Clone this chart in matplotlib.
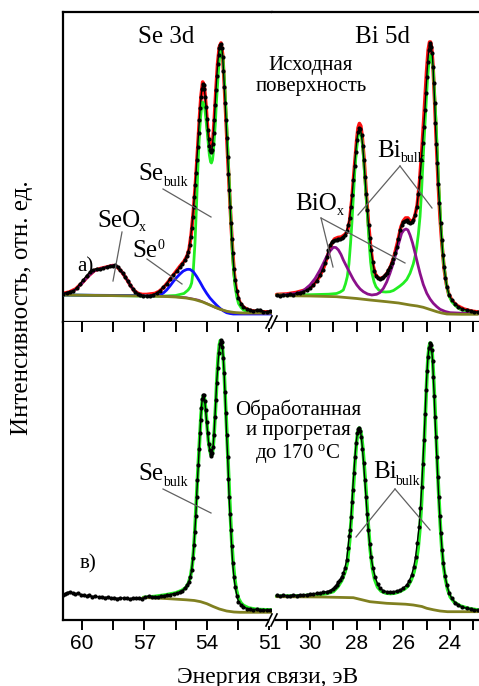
import matplotlib
matplotlib.use("Agg")
import matplotlib.pyplot as plt
from matplotlib.lines import Line2D
from matplotlib.patches import Polygon

plt.rcParams["mathtext.fontset"] = "custom"
plt.rcParams["mathtext.rm"] = "Liberation Serif"
plt.rcParams["mathtext.it"] = "Liberation Serif:italic"
SERIF = "Liberation Serif"
SANS = "Liberation Sans"

# ---------- а) исходная поверхность, Se 3d ----------
se_a_E = [60.90, 60.74, 60.58, 60.42, 60.26, 60.10, 59.94, 59.78, 59.62, 59.46, 59.30, 59.14,
          58.97, 58.81, 58.65, 58.53, 58.41, 58.29, 58.17, 58.05, 57.93, 57.81, 57.69, 57.57,
          57.45, 57.33, 57.21, 57.05, 56.89, 56.73, 56.57, 56.41, 56.25, 56.09, 55.93, 55.77,
          55.61, 55.45, 55.29, 55.17, 55.05, 54.97, 54.89, 54.83, 54.78, 54.73, 54.68, 54.64,
          54.60, 54.56, 54.52, 54.48, 54.44, 54.40, 54.36, 54.32, 54.28, 54.24, 54.20, 54.16,
          54.12, 54.08, 54.04, 54.00, 53.96, 53.92, 53.88, 53.84, 53.80, 53.76, 53.72, 53.68,
          53.64, 53.60, 53.56, 53.52, 53.48, 53.44, 53.40, 53.36, 53.32, 53.28, 53.24, 53.20,
          53.16, 53.12, 53.08, 53.04, 53.00, 52.96, 52.92, 52.88, 52.84, 52.80, 52.76, 52.70,
          52.64, 52.56, 52.48, 52.36, 52.24, 52.08, 51.92, 51.76, 51.60, 51.44, 51.28, 51.12, 50.96]
se_a_I = [28.5, 29.5, 30.5, 31, 34, 38, 42, 46.5, 50, 52, 53.5, 53,
          54, 55.5, 56, 56.5, 57.5, 55.5, 52, 49, 45, 41, 37, 33.5,
          30.5, 28.5, 27, 26.5, 26, 26.5, 27.5, 29, 31.5, 35, 38.5, 43,
          47, 51, 55, 58.5, 62, 66, 70.5, 77, 85, 94, 105, 115,
          125, 137, 149, 162, 175, 189, 202, 214, 225, 233, 238.5, 237.5,
          233, 225, 215, 203, 192, 183, 176.5, 172, 170, 172, 178.5, 189,
          202, 217, 232, 246, 258, 267.5, 274, 277.5, 278, 274, 265, 251,
          235, 219, 202, 184, 165, 148, 132, 115, 99, 83, 69, 53,
          42, 31, 24, 18.5, 15.5, 13, 12, 11, 12.5, 12.5, 10.5, 10.5, 11]

se_a_fit_E = [60.90, 60.60, 60.30, 60.00, 59.70, 59.40, 59.10, 58.80, 58.50, 58.30, 58.10, 57.90,
              57.70, 57.50, 57.30, 57.10, 56.90, 56.70, 56.50, 56.30, 56.10, 55.90, 55.70, 55.50,
              55.30, 55.10, 54.95, 54.85, 54.75, 54.65, 54.55, 54.45, 54.35, 54.28, 54.20, 54.12,
              54.04, 53.96, 53.88, 53.80, 53.72, 53.64, 53.56, 53.48, 53.40, 53.32, 53.24, 53.16,
              53.08, 53.00, 52.92, 52.84, 52.76, 52.68, 52.60, 52.50, 52.40, 52.25, 52.05, 51.80,
              51.50, 51.20, 50.88]
se_a_fit_I = [28.5, 30, 33, 39, 46, 51.5, 53.5, 55, 56.5, 55, 50.5, 44.5,
              37.5, 31.5, 28.5, 27.5, 27.5, 28, 28.5, 30.5, 34, 39, 44.5, 50,
              55.5, 60.5, 66, 73, 88, 110, 137, 170, 205, 226, 240, 235,
              216, 193, 177, 171, 179, 203, 233, 259, 275, 279, 267, 237,
              203, 166, 133, 100, 70, 48, 34, 24, 19, 15, 12.5, 11,
              10.5, 10, 10]

se_a_bulk_E = [60.90, 59.00, 57.00, 56.00, 55.50, 55.10, 54.90, 54.80, 54.73, 54.65, 54.57, 54.49,
               54.41, 54.35, 54.30, 54.25, 54.20, 54.15, 54.09, 54.03, 53.96, 53.88, 53.82, 53.78,
               53.73, 53.69, 53.64, 53.59, 53.54, 53.49, 53.44, 53.40, 53.36, 53.32, 53.27, 53.22,
               53.17, 53.13, 53.09, 53.05, 53.00, 52.95, 52.90, 52.85, 52.80, 52.76, 52.70, 52.64,
               52.56, 52.48, 52.36, 52.24, 52.00, 51.76, 51.30, 50.88]
se_a_bulk_I = [27, 26.5, 26, 26, 26.5, 28.5, 32, 35, 39, 52, 79, 120,
               165, 190, 205, 215, 220, 218, 212, 200, 185, 167, 160, 159,
               162, 169, 184, 199, 220, 236, 252, 262, 269, 272, 268, 262,
               246, 232, 215, 199, 176, 152, 128, 105, 82, 65, 48, 35,
               25, 18.5, 14.5, 12, 10, 9.3, 9, 9]

se_a_se0_E = [60.90, 58.00, 57.00, 56.73, 56.50, 56.25, 56.09, 55.93, 55.77, 55.61, 55.45, 55.29,
              55.13, 54.97, 54.89, 54.80, 54.65, 54.49, 54.33, 54.17, 54.01, 53.85, 53.69, 53.53,
              53.37, 53.21, 53.05, 52.89, 52.73, 52.40, 51.80, 50.88]
se_a_se0_I = [27, 26.5, 26.3, 26, 26.2, 27, 29, 32, 36, 40.5, 44.5, 48,
              51, 52.5, 52.7, 52.5, 50.3, 45.5, 40, 34, 28.7, 24, 20.3, 16.8,
              13.7, 11.2, 9.3, 8.5, 8, 8, 8, 8]

se_a_ox_E = [60.90, 60.60, 60.30, 60.00, 59.70, 59.40, 59.10, 58.80, 58.55, 58.40, 58.25, 58.10,
             57.90, 57.70, 57.50, 57.30, 57.10, 56.80, 56.00, 55.00, 54.40, 54.00, 53.60, 53.20,
             52.80, 52.40, 50.88]
se_a_ox_I = [28, 29.5, 32.5, 38.5, 45.5, 51, 53.5, 55, 56.5, 57, 54.5, 50.5,
             44.5, 37.5, 31.5, 28, 26.8, 26.3, 25.8, 24.5, 22, 18.5, 14.5, 11.5,
             9.5, 8.8, 8.8]

se_a_bg_E = [60.90, 59.00, 57.00, 56.00, 55.50, 55.00, 54.60, 54.20, 53.80, 53.40, 53.00, 52.60, 52.20, 50.88]
se_a_bg_I = [27, 26.5, 26, 25.5, 25, 24, 22.5, 20, 16.5, 13, 10.5, 9.3, 9, 9]

# ---------- а) исходная поверхность, Bi 5d ----------
bi_a_E = [31.43, 31.28, 31.14, 31.00, 30.86, 30.71, 30.57, 30.43, 30.29, 30.14, 30.00, 29.86,
          29.71, 29.57, 29.46, 29.36, 29.28, 29.21, 29.14, 29.07, 29.00, 28.93, 28.86, 28.79,
          28.71, 28.64, 28.57, 28.50, 28.43, 28.36, 28.30, 28.24, 28.19, 28.14, 28.09, 28.04,
          27.99, 27.94, 27.89, 27.84, 27.79, 27.74, 27.69, 27.64, 27.59, 27.54, 27.49, 27.44,
          27.38, 27.31, 27.24, 27.17, 27.07, 27.00, 26.93, 26.85, 26.78, 26.71, 26.64, 26.57,
          26.50, 26.43, 26.35, 26.28, 26.21, 26.14, 26.07, 26.00, 25.93, 25.85, 25.78, 25.71,
          25.64, 25.57, 25.50, 25.42, 25.35, 25.28, 25.22, 25.17, 25.12, 25.07, 25.03, 24.99,
          24.95, 24.91, 24.87, 24.84, 24.80, 24.76, 24.72, 24.69, 24.65, 24.62, 24.58, 24.54,
          24.50, 24.45, 24.40, 24.35, 24.30, 24.25, 24.19, 24.13, 24.03, 23.92, 23.78, 23.63,
          23.46, 23.28, 23.10, 22.95, 22.80]
bi_a_I = [27, 26.5, 27.5, 27, 28, 27.5, 28.7, 29.5, 30.5, 32, 34, 37,
          41.5, 47, 52.5, 58.7, 65, 72, 77, 80.3, 81.5, 82, 82, 83,
          83, 84, 85.5, 87.5, 91, 97, 104, 115, 127, 142, 156, 170,
          182, 190, 194.5, 193, 187, 176, 162, 145, 128, 112, 97, 84,
          72, 60, 51, 46, 44, 43.5, 44, 45, 47, 49.5, 52, 55.3,
          59.5, 63.5, 68.7, 75, 83, 92, 97, 100.3, 101.5, 102, 100, 98.7,
          100, 102, 107, 115.3, 128, 145.3, 162, 178.7, 195, 212, 229, 245.3,
          260, 272, 277.5, 278.7, 275, 268.7, 255, 238.7, 219, 198.7, 178, 158.7,
          138, 118.7, 99, 82, 67, 55.3, 44, 35.3, 27, 22, 18, 15.3,
          13, 12, 11.5, 10, 10.3]

bi_a_fit_E = [31.43, 31.00, 30.60, 30.20, 29.90, 29.60, 29.40, 29.25, 29.10, 28.95, 28.80, 28.65,
              28.50, 28.40, 28.30, 28.20, 28.10, 28.00, 27.94, 27.88, 27.82, 27.76, 27.68, 27.60,
              27.50, 27.40, 27.30, 27.20, 27.10, 27.00, 26.85, 26.70, 26.55, 26.40, 26.25, 26.10,
              26.00, 25.90, 25.80, 25.70, 25.60, 25.50, 25.40, 25.30, 25.20, 25.10, 25.00, 24.93,
              24.87, 24.83, 24.78, 24.72, 24.65, 24.58, 24.50, 24.42, 24.34, 24.25, 24.15, 24.05,
              23.90, 23.70, 23.40, 23.10, 22.80]
bi_a_fit_I = [27.5, 28, 29.5, 32, 36, 45, 55, 66, 77, 83, 84.5, 85,
              87.5, 90.5, 101, 123, 153, 181, 194, 198.5, 196, 185, 163, 133,
              101, 75, 57, 48, 44.5, 43.5, 44.5, 48.5, 55, 65, 79, 95,
              101, 104, 104, 101, 100.5, 106, 117, 140, 172, 210, 250, 272,
              280, 280, 274, 255, 219, 180, 139, 104, 78, 54, 38, 28,
              21, 16.5, 13, 11, 10]

bi_a_bulk_E = [31.43, 30.00, 29.20, 28.86, 28.70, 28.57, 28.48, 28.40, 28.33, 28.26, 28.20, 28.14,
               28.08, 28.03, 27.98, 27.93, 27.89, 27.85, 27.81, 27.77, 27.72, 27.67, 27.61, 27.55,
               27.50, 27.45, 27.40, 27.34, 27.25, 27.17, 27.05, 26.92, 26.75, 26.57, 26.42, 26.28,
               26.14, 26.00, 25.85, 25.71, 25.57, 25.47, 25.42, 25.35, 25.28, 25.22, 25.17, 25.11,
               25.05, 25.00, 24.96, 24.92, 24.88, 24.85, 24.82, 24.78, 24.74, 24.70, 24.65, 24.60,
               24.56, 24.52, 24.48, 24.43, 24.38, 24.33, 24.28, 24.20, 24.13, 24.03, 23.92, 23.75,
               23.56, 23.20, 22.80]
bi_a_bulk_I = [27, 27.3, 27.8, 28.5, 30, 32, 38, 45.3, 58, 78.7, 100, 125.3,
               150, 165.3, 177, 187, 190, 190.3, 187, 182, 170, 152, 131, 112,
               93, 75.3, 60, 48.7, 40, 35.3, 32, 30.3, 30, 30.3, 31.5, 33.7,
               36, 38.7, 42.5, 48.7, 58, 68, 75.3, 88, 105.3, 128, 152, 180,
               205.3, 226, 242, 254, 262, 265.5, 267, 264, 258.7, 248, 225.3, 203,
               182, 160, 138.7, 117, 95.3, 78, 62, 47, 35.3, 26, 20.3, 16,
               12.7, 10.5, 9.3]

bi_a_ox_E = [31.43, 30.57, 30.30, 30.00, 29.78, 29.57, 29.43, 29.29, 29.14, 29.00, 28.89, 28.78,
             28.67, 28.57, 28.43, 28.28, 28.14, 27.99, 27.85, 27.71, 27.53, 27.35, 27.14, 27.00,
             26.85, 26.71, 26.57, 26.43, 26.28, 26.17, 26.07, 25.97, 25.88, 25.80, 25.71, 25.60,
             25.49, 25.38, 25.28, 25.14, 24.99, 24.85, 24.71, 24.56, 24.42, 24.20, 23.99, 23.50, 22.80]
bi_a_ox_I = [26.3, 28.7, 31, 37, 43.5, 52, 58.5, 65.3, 71, 74.7, 74.5, 72,
             67.5, 62, 55.5, 48.7, 42.5, 37, 33, 30.3, 28, 27, 27.7, 29.5,
             33.7, 40, 48.7, 58.5, 72, 80.5, 88.7, 92, 93, 92, 87, 79,
             68.7, 58, 48.7, 37.5, 28.7, 23, 18.7, 15.3, 12.7, 10.5, 9.3, 8.8, 8.7]

bi_a_bg_E = [31.43, 30.00, 28.86, 28.00, 27.43, 26.71, 26.20, 25.71, 25.40, 25.14, 24.85, 24.56,
             24.35, 24.13, 23.50, 22.80]
bi_a_bg_I = [26.3, 26, 25.3, 23.5, 22, 20.3, 19, 17, 16, 14.7, 12.5, 10.3, 9, 8, 7.7, 7.7]

# ---------- в) обработанная и прогретая, Se 3d ----------
se_b_E = [60.90, 60.80, 60.70, 60.58, 60.45, 60.33, 60.20, 60.05, 59.92, 59.78, 59.65, 59.50,
          59.35, 59.20, 59.05, 58.90, 58.75, 58.60, 58.45, 58.30, 58.15, 58.00, 57.85, 57.70,
          57.55, 57.40, 57.25, 57.10, 56.95, 56.80, 56.65, 56.50, 56.35, 56.20, 56.05, 55.90,
          55.75, 55.60, 55.45, 55.30, 55.17, 55.05, 54.95, 54.87, 54.80, 54.73, 54.67, 54.62,
          54.58, 54.53, 54.49, 54.45, 54.41, 54.37, 54.33, 54.30, 54.26, 54.22, 54.18, 54.14,
          54.10, 54.06, 54.01, 53.96, 53.91, 53.86, 53.82, 53.78, 53.74, 53.70, 53.66, 53.61,
          53.57, 53.53, 53.48, 53.43, 53.38, 53.33, 53.29, 53.25, 53.21, 53.17, 53.13, 53.09,
          53.05, 53.00, 52.96, 52.93, 52.89, 52.85, 52.81, 52.76, 52.70, 52.64, 52.56, 52.48,
          52.36, 52.24, 52.08, 51.92, 51.76, 51.60, 51.44, 51.28, 51.12, 50.96]
se_b_I = [25, 26.5, 27.5, 28.3, 27, 26, 27, 25.5, 25, 24.3, 25, 23.5,
          24, 23, 23.5, 22.5, 23, 22, 22.5, 21.5, 22.5, 21.7, 22, 21.3,
          22, 21.7, 22.5, 21.5, 23, 24, 23, 23.5, 22.8, 24, 24.5, 25,
          25.5, 26.5, 26.7, 28, 29.5, 32, 35, 38, 43, 50, 62, 75,
          88, 104, 123.3, 140, 155, 171, 187, 200, 212, 221, 225.5, 225,
          219, 210, 198, 186.7, 176, 170, 166, 164, 167, 173.3, 185, 203.3,
          220, 236.7, 252, 266.7, 276, 280, 278.5, 273.3, 262, 246.7, 228, 206.7,
          185, 163.3, 141, 123.3, 106, 90, 74, 56.7, 43, 33.3, 24.5, 18.3,
          15, 13.3, 11.5, 10.7, 10.3, 11, 10, 10.5, 9.8, 10]

se_b_bulk_E = [57.05, 56.50, 56.00, 55.50, 55.20, 55.00, 54.88, 54.78, 54.70, 54.64, 54.58, 54.52,
               54.46, 54.40, 54.34, 54.28, 54.22, 54.17, 54.12, 54.06, 54.00, 53.93, 53.86, 53.80,
               53.75, 53.70, 53.64, 53.58, 53.52, 53.46, 53.40, 53.35, 53.31, 53.26, 53.21, 53.16,
               53.10, 53.04, 52.98, 52.92, 52.86, 52.80, 52.74, 52.66, 52.58, 52.48, 52.36, 52.24,
               52.00, 51.60, 50.88]
se_b_bulk_I = [22.5, 23.5, 25, 27, 29.5, 32.5, 37, 44, 55, 68, 88, 112,
               137, 160, 183, 205, 219, 224, 222, 212, 197, 180, 170, 165,
               165.5, 172, 190, 213, 240, 262, 275, 279.5, 279, 274, 262, 244,
               215, 188, 158, 128, 101, 77, 58, 41, 30, 21.5, 17, 14.5,
               12, 10.5, 10]

se_b_bg_E = [57.05, 56.00, 55.00, 54.60, 54.30, 54.00, 53.70, 53.40, 53.05, 52.70, 52.40, 50.88]
se_b_bg_I = [22.5, 21.5, 20.2, 19.5, 18.3, 16.3, 13.5, 11, 9, 8, 7.7, 7.7]

# ---------- в) обработанная и прогретая, Bi 5d ----------
bi_b_E = [31.43, 31.30, 31.15, 31.00, 30.86, 30.71, 30.57, 30.43, 30.29, 30.14, 30.00, 29.86,
          29.71, 29.57, 29.43, 29.29, 29.14, 29.00, 28.93, 28.86, 28.79, 28.71, 28.64, 28.57,
          28.50, 28.43, 28.37, 28.32, 28.28, 28.24, 28.20, 28.17, 28.12, 28.07, 28.02, 27.97,
          27.92, 27.88, 27.84, 27.80, 27.75, 27.70, 27.65, 27.60, 27.55, 27.50, 27.44, 27.38,
          27.30, 27.21, 27.10, 27.00, 26.86, 26.71, 26.57, 26.42, 26.28, 26.14, 26.00, 25.85,
          25.75, 25.64, 25.55, 25.47, 25.40, 25.32, 25.26, 25.21, 25.16, 25.11, 25.06, 25.02,
          24.98, 24.94, 24.90, 24.85, 24.81, 24.78, 24.74, 24.71, 24.67, 24.64, 24.60, 24.56,
          24.52, 24.48, 24.43, 24.39, 24.33, 24.28, 24.20, 24.13, 24.03, 23.92, 23.78, 23.63,
          23.46, 23.28, 23.10, 22.95, 22.80]
bi_b_I = [25, 24, 24.8, 24.3, 24.3, 25.2, 24.5, 25.3, 25, 25.5, 25.8, 26.3,
          26.7, 27, 27.8, 28.3, 29.5, 31.5, 33.3, 35.5, 38, 40.5, 43.3, 47,
          52, 60, 72, 84, 90, 103, 118, 130, 147, 163.3, 177, 186.7,
          191, 191.7, 189, 183.3, 171, 156.7, 140, 123.3, 106, 90, 76, 63.3,
          52, 43.3, 36, 31.7, 29.5, 28.3, 28, 28.3, 29, 30, 32, 35,
          39, 45, 53, 63.3, 77, 93.3, 112, 133.3, 156, 180, 206, 230,
          249, 263.3, 272, 276.7, 275, 270, 259, 243.3, 224, 203.3, 183, 163.3,
          143, 123.3, 104, 86.7, 70, 56.7, 44, 35, 27, 21.7, 17.5, 15,
          13, 11.7, 11, 10.2, 10]

bi_b_bulk_E = [31.43, 30.50, 29.80, 29.30, 29.00, 28.80, 28.64, 28.50, 28.40, 28.30, 28.22, 28.15,
               28.08, 28.01, 27.95, 27.89, 27.84, 27.79, 27.73, 27.66, 27.58, 27.50, 27.42, 27.33,
               27.23, 27.10, 26.95, 26.75, 26.55, 26.35, 26.15, 25.95, 25.80, 25.66, 25.54, 25.44,
               25.36, 25.29, 25.22, 25.16, 25.10, 25.04, 24.99, 24.94, 24.89, 24.85, 24.81, 24.76,
               24.71, 24.65, 24.59, 24.53, 24.47, 24.41, 24.35, 24.28, 24.20, 24.10, 23.98, 23.80,
               23.55, 23.20, 22.80]
bi_b_bulk_I = [23.8, 24, 25, 26.5, 28.5, 33.5, 39.5, 48, 57, 79, 103, 128,
               154, 176, 188, 192, 190, 184, 171, 150, 124, 95, 71, 53,
               41, 33, 29, 27, 26.5, 27, 28.5, 31, 34, 40, 48, 59,
               72, 90, 115, 145, 176, 212, 240, 262, 273, 277, 276, 268,
               248, 219, 186, 152, 122, 95, 73, 55, 42, 31, 23, 17.5,
               14, 11.5, 10]

bi_b_bg_E = [31.43, 29.50, 28.14, 27.43, 26.71, 25.90, 25.57, 25.20, 24.99, 24.70, 24.42, 24.10, 22.80]
bi_b_bg_I = [23.3, 23, 22.3, 18.3, 16.7, 15.8, 15, 13.5, 11.7, 10.2, 9, 8.3, 8.3]

# оси
se_ticks = [60, 58.5, 57, 55.5, 54, 52.5, 51]
se_labels = ["60", "", "57", "", "54", "", "51"]
bi_ticks = [31, 30, 29, 28, 27, 26, 25, 24, 23]
bi_labels = ["", "30", "", "28", "", "26", "", "24", ""]

RED, GREEN, BLUE, PURPLE, OLIVE = "#ff1010", "#22ee22", "#1010ff", "#8b108b", "#808020"

W, H = 479, 686
fig = plt.figure(figsize=(W / 100, H / 100), dpi=100, facecolor="white")


def box(x0, y0, x1, y1):
    return [x0 / W, 1 - y1 / H, (x1 - x0) / W, (y1 - y0) / H]


ax_sa = fig.add_axes(box(63, 12, 272, 322))
ax_ba = fig.add_axes(box(272, 12, 479, 322))
ax_sb = fig.add_axes(box(63, 322, 272, 620))
ax_bb = fig.add_axes(box(272, 322, 479, 620))

for ax in (ax_sa, ax_sb):
    ax.set_xlim(60.91, 50.87)
for ax in (ax_ba, ax_bb):
    ax.set_xlim(31.63, 22.75)
for ax in (ax_sa, ax_ba):
    ax.set_ylim(0, 310)
for ax in (ax_sb, ax_bb):
    ax.set_ylim(0, 298)


def data(ax, E, I):
    ax.plot(E, I, color="black", lw=1.0, marker="o", ms=2.0, zorder=6)


def fit(ax, E, I, color, lw=2.0, z=3):
    ax.plot(E, I, color=color, lw=lw, zorder=z, solid_capstyle="round")


fit(ax_sa, se_a_fit_E, se_a_fit_I, RED, 2.6, 2)
fit(ax_sa, se_a_bulk_E, se_a_bulk_I, GREEN)
fit(ax_sa, se_a_se0_E, se_a_se0_I, BLUE)
fit(ax_sa, se_a_ox_E, se_a_ox_I, PURPLE, 1.6)
fit(ax_sa, se_a_bg_E, se_a_bg_I, OLIVE, 2.0, 4)
data(ax_sa, se_a_E, se_a_I)

fit(ax_ba, bi_a_fit_E, bi_a_fit_I, RED, 2.6, 2)
fit(ax_ba, bi_a_bulk_E, bi_a_bulk_I, GREEN)
fit(ax_ba, bi_a_ox_E, bi_a_ox_I, PURPLE)
fit(ax_ba, bi_a_bg_E, bi_a_bg_I, OLIVE, 2.0, 4)
data(ax_ba, bi_a_E, bi_a_I)

fit(ax_sb, se_b_bulk_E, se_b_bulk_I, GREEN, 2.6)
fit(ax_sb, se_b_bg_E, se_b_bg_I, OLIVE, 2.0, 4)
data(ax_sb, se_b_E, se_b_I)

fit(ax_bb, bi_b_bulk_E, bi_b_bulk_I, GREEN, 2.6)
fit(ax_bb, bi_b_bg_E, bi_b_bg_I, OLIVE, 2.0, 4)
data(ax_bb, bi_b_E, bi_b_I)

for ax in (ax_sa, ax_ba, ax_sb, ax_bb):
    ax.set_yticks([])
    for s in ax.spines.values():
        s.set_linewidth(1.6)
    ax.spines["right"].set_visible(False)
for ax in (ax_ba, ax_bb):
    ax.spines["left"].set_visible(False)
ax_sb.spines["top"].set_visible(False)
ax_bb.spines["top"].set_visible(False)
for ax in (ax_sa, ax_ba):
    ax.set_xticks([])

for ax, t, lab in ((ax_sb, se_ticks, se_labels), (ax_bb, bi_ticks, bi_labels)):
    ax.set_xticks(t)
    ax.set_xticklabels(lab, fontfamily=SANS, fontsize=15)
    ax.tick_params(axis="x", which="both", direction="out", length=7, width=1.4,
                   pad=3, top=False)
    # верхние штрихи внутрь
    sec = ax.secondary_xaxis("top")
    sec.set_xticks(t)
    sec.set_xticklabels([])
    sec.tick_params(direction="in", length=7, width=1.4)
    sec.spines["top"].set_visible(False)


def fx(x):
    return x / W


def fy(y):
    return 1 - y / H


def txt(x, y, s, size=18, **kw):
    fig.text(fx(x), fy(y), s, fontsize=size, family=SERIF, ha="left", va="baseline", **kw)


def leader(x1, y1, x2, y2):
    fig.add_artist(Line2D([fx(x1), fx(x2)], [fy(y1), fy(y2)], color="#606060", lw=0.9))


# подписи, верхняя панель
txt(138, 43, "Se 3d")
txt(355, 43, "Bi 5d")
fig.text(fx(311), fy(76), "Исходная\nповерхность", fontsize=15, family=SERIF,
         ha="center", va="center", linespacing=1.15)
txt(138, 180, "Se")
txt(163, 186, "bulk", 10)
leader(163, 189, 211, 217)
txt(97, 227, "SeO")
txt(139, 231, "x", 10)
leader(122, 232, 113, 281)
txt(132, 257, "Se")
txt(157, 249, "0", 10)
leader(147, 259, 182, 284)
txt(77, 271, "а)", 15)
txt(295, 210, "BiO")
txt(337, 215, "x", 10)
leader(321, 218, 333, 267)
leader(321, 218, 405, 263)
txt(377, 157, "Bi")
txt(400, 162, "bulk", 10)
leader(400, 166, 358, 215)
leader(400, 166, 432, 208)

# подписи, нижняя панель
fig.text(fx(298), fy(432), "Обработанная\nи прогретая\nдо 170 $^{\\rm o}$C", fontsize=15,
         family=SERIF, ha="center", va="center", linespacing=1.1)
txt(138, 480, "Se")
txt(163, 486, "bulk", 10)
leader(163, 489, 211, 513)
txt(80, 568, "в)", 15)
txt(373, 478, "Bi")
txt(395, 485, "bulk", 10)
leader(395, 489, 356, 537)
leader(395, 489, 430, 530)

# разрыв оси
for yb in (322, 620):
    fig.add_artist(Polygon([(fx(267), fy(yb + 6)), (fx(272), fy(yb + 6)),
                            (fx(277), fy(yb - 6)), (fx(272), fy(yb - 6))],
                           closed=True, facecolor="white", edgecolor="none", zorder=10))
    for dx in (0, 5):
        fig.add_artist(Line2D([fx(266 + dx), fx(272 + dx)], [fy(yb + 6), fy(yb - 6)],
                              color="black", lw=1.2, zorder=11))

fig.text(fx(268), fy(677), "Энергия связи, эВ", fontsize=17, family=SERIF,
         ha="center", va="center")
fig.text(fx(22), fy(308), "Интенсивность, отн. ед.", fontsize=18, family=SERIF,
         ha="center", va="center", rotation=90)

fig.savefig("out.png", dpi=100, facecolor="white")
